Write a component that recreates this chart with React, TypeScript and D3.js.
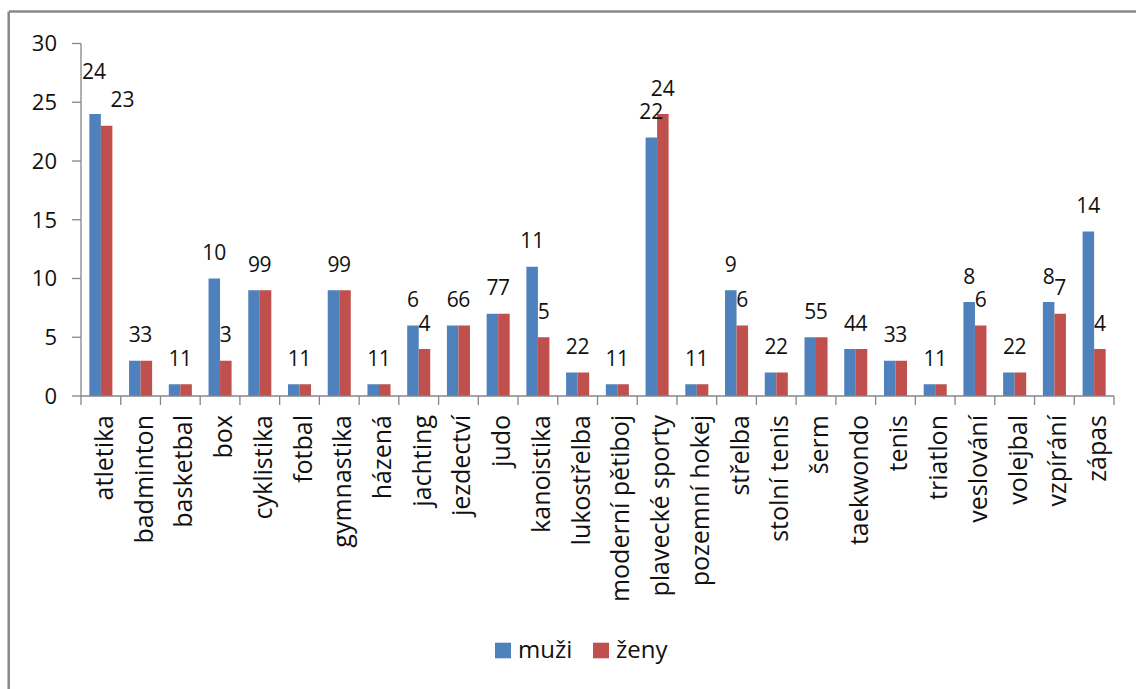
import React from "react";
import * as d3 from "d3";

const categories = [
  "atletika", "badminton", "basketbal", "box", "cyklistika", "fotbal", "gymnastika",
  "házená", "jachting", "jezdectví", "judo", "kanoistika", "lukostřelba",
  "moderní pětiboj", "plavecké sporty", "pozemní hokej", "střelba", "stolní tenis",
  "šerm", "taekwondo", "tenis", "triatlon", "veslování", "volejbal", "vzpírání", "zápas",
];
const muzi = [24, 3, 1, 10, 9, 1, 9, 1, 6, 6, 7, 11, 2, 1, 22, 1, 9, 2, 5, 4, 3, 1, 8, 2, 8, 14];
const zeny = [23, 3, 1, 3, 9, 1, 9, 1, 4, 6, 7, 5, 2, 1, 24, 1, 6, 2, 5, 4, 3, 1, 6, 2, 7, 4];
const seriesNames = ["muži", "ženy"];
const yTicks = [0, 5, 10, 15, 20, 25, 30];

const colors = ["#4F81BD", "#C0504D"];
const labelNudge: Record<string, [number, number]> = {
  "atletika|0": [-1, -17],
  "atletika|1": [16, 0],
};

const FONT = "'Open Sans', sans-serif";
const AXIS = "#868686";

export default function App() {
  const left = 81, right = 1114, top = 43.5, bottom = 396;
  const x = d3.scaleBand<string>().domain(categories).range([left, right]).paddingInner(0).paddingOuter(0);
  const y = d3.scaleLinear().domain([0, 30]).range([bottom, top]);
  const bw = x.bandwidth();
  const gw = bw * 0.58;
  const xi = d3.scaleBand<string>().domain(seriesNames).range([(bw - gw) / 2, (bw + gw) / 2]);
  const data = [muzi, zeny];

  const boundaries = d3.range(categories.length + 1).map((i) => left + i * bw);

  return (
    <svg width={1136} height={689} style={{ position: "absolute", left: 0, top: 0 }} fontFamily={FONT}>
      <rect x={0} y={0} width={1136} height={689} fill="#fff" />
      <line x1={9} y1={11.5} x2={1136} y2={11.5} stroke="#888" strokeWidth={2.5} />
      <line x1={8.7} y1={11.5} x2={8.7} y2={689} stroke="#888" strokeWidth={2.5} />

      {/* y axis */}
      <line x1={left} y1={top} x2={left} y2={bottom} stroke={AXIS} strokeWidth={1.3} />
      {yTicks.map((t) => (
        <g key={t}>
          <line x1={left - 9} x2={left} y1={y(t)} y2={y(t)} stroke={AXIS} strokeWidth={1.3} />
          <text x={57} y={y(t) + 7.8} textAnchor="end" fontSize={22} fill="#111">{t}</text>
        </g>
      ))}

      {/* bars */}
      {data.map((vals, si) =>
        vals.map((v, ci) => {
          const c = categories[ci];
          const bx = (x(c) as number) + (xi(seriesNames[si]) as number);
          return (
            <rect key={`${si}-${ci}`} x={bx} y={y(v)} width={xi.bandwidth()} height={y(0) - y(v)} fill={colors[si]} />
          );
        })
      )}

      {/* x axis */}
      <line x1={left} y1={bottom} x2={right} y2={bottom} stroke={AXIS} strokeWidth={1.3} />
      {boundaries.map((b, i) => (
        <line key={i} x1={b} x2={b} y1={bottom} y2={bottom + 9} stroke={AXIS} strokeWidth={1.3} />
      ))}

      {/* data labels */}
      {data.map((vals, si) =>
        vals.map((v, ci) => {
          const c = categories[ci];
          const cx = (x(c) as number) + (xi(seriesNames[si]) as number) + xi.bandwidth() / 2;
          const n = labelNudge[`${c}|${si}`] || [0, 0];
          return (
            <text key={`l${si}-${ci}`} x={cx + n[0]} y={y(v) - 18.5 + n[1]} textAnchor="middle" fontSize={21} fill="#111">
              {v}
            </text>
          );
        })
      )}

      {/* category labels */}
      {categories.map((c) => {
        const cx = (x(c) as number) + bw / 2;
        return (
          <text key={c} transform={`translate(${cx + 12},415) rotate(-90)`} textAnchor="end" fontSize={25} fill="#111">
            {c}
          </text>
        );
      })}

      {/* legend */}
      {seriesNames.map((s, i) => {
        const lx = [495, 593][i];
        return (
          <g key={s}>
            <rect x={lx} y={642.7} width={16} height={15.6} fill={colors[i]} />
            <text x={lx + 23} y={658} fontSize={24} fill="#111">{s}</text>
          </g>
        );
      })}
    </svg>
  );
}
